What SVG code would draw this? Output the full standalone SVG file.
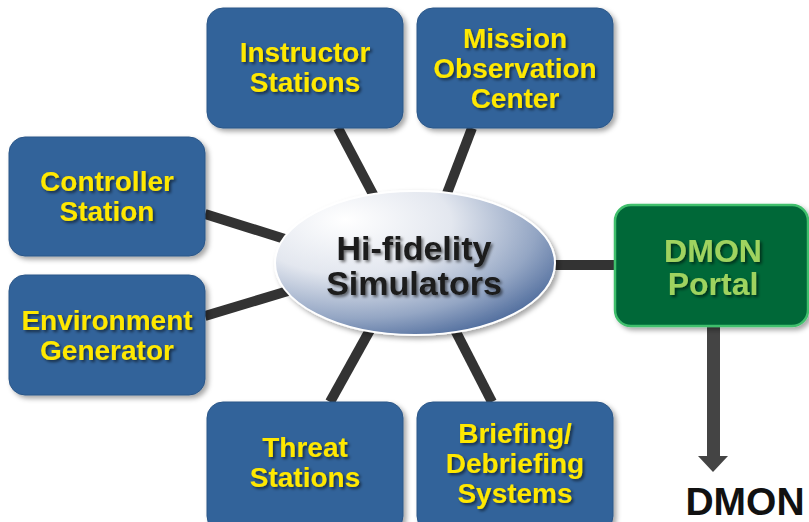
<svg xmlns="http://www.w3.org/2000/svg" width="809" height="522" viewBox="0 0 809 522">
<defs>
<style>
.box{fill:#33649a;stroke:#2a5688;stroke-width:1}
.lbl{font-family:"Liberation Sans",Arial,sans-serif;font-weight:bold;font-size:28px;fill:#ffe800;text-anchor:middle}
.conn{stroke:#333333;stroke-width:10;stroke-linecap:butt}
</style>
<filter id="sh" x="-10%" y="-10%" width="130%" height="130%">
<feDropShadow dx="3" dy="3" stdDeviation="2.5" flood-color="#000" flood-opacity="0.35"/>
</filter>
<filter id="tsh" x="-10%" y="-10%" width="130%" height="140%">
<feDropShadow dx="2" dy="2" stdDeviation="1.5" flood-color="#000" flood-opacity="0.55"/>
</filter>
<radialGradient id="eg" cx="0.3" cy="0.25" r="0.9" fx="0.25" fy="0.2">
<stop offset="0" stop-color="#ffffff"/>
<stop offset="0.4" stop-color="#e3e7ef"/>
<stop offset="0.72" stop-color="#94a6c4"/>
<stop offset="1" stop-color="#36578e"/>
</radialGradient>
</defs>
<rect width="809" height="522" fill="#ffffff"/>
<g id="connectors">
<line class="conn" x1="338" y1="128" x2="375" y2="198"/>
<line class="conn" x1="472" y1="128" x2="446" y2="196"/>
<line class="conn" x1="205" y1="214" x2="288" y2="240"/>
<line class="conn" x1="205" y1="316" x2="288" y2="291"/>
<line class="conn" x1="330" y1="402" x2="370" y2="330"/>
<line class="conn" x1="492" y1="402" x2="455" y2="330"/>
<line class="conn" x1="553" y1="265" x2="616" y2="265"/>
<rect x="707" y="326" width="13" height="131" fill="#444444"/>
<polygon points="698,456 728,456 713,472" fill="#444444"/>
</g>
<g id="instructor">
<rect class="box" x="207" y="8" width="196" height="120" rx="16" filter="url(#sh)"/>
<text class="lbl" filter="url(#tsh)"><tspan x="305" y="62">Instructor</tspan><tspan x="305" y="92">Stations</tspan></text>
</g>
<g id="mission">
<rect class="box" x="417" y="8" width="196" height="120" rx="16" filter="url(#sh)"/>
<text class="lbl" filter="url(#tsh)"><tspan x="515" y="48">Mission</tspan><tspan x="515" y="78">Observation</tspan><tspan x="515" y="108">Center</tspan></text>
</g>
<g id="controller">
<rect class="box" x="9" y="137" width="196" height="119" rx="16" filter="url(#sh)"/>
<text class="lbl" filter="url(#tsh)"><tspan x="107" y="191">Controller</tspan><tspan x="107" y="221">Station</tspan></text>
</g>
<g id="environment">
<rect class="box" x="9" y="275" width="196" height="120" rx="16" filter="url(#sh)"/>
<text class="lbl" filter="url(#tsh)"><tspan x="107" y="330">Environment</tspan><tspan x="107" y="360">Generator</tspan></text>
</g>
<g id="threat">
<rect class="box" x="207" y="402" width="196" height="130" rx="16" filter="url(#sh)"/>
<text class="lbl" filter="url(#tsh)"><tspan x="305" y="457">Threat</tspan><tspan x="305" y="487">Stations</tspan></text>
</g>
<g id="briefing">
<rect class="box" x="417" y="402" width="196" height="130" rx="16" filter="url(#sh)"/>
<text class="lbl" filter="url(#tsh)"><tspan x="515" y="443">Briefing/</tspan><tspan x="515" y="473">Debriefing</tspan><tspan x="515" y="503">Systems</tspan></text>
</g>
<g id="simulators">
<ellipse cx="415" cy="263" rx="140" ry="72" fill="url(#eg)" stroke="#ffffff" stroke-width="2" filter="url(#sh)"/>
<text font-family="'Liberation Sans',Arial,sans-serif" font-weight="bold" font-size="34" fill="#1a1a1a" text-anchor="middle" filter="url(#tsh)"><tspan x="414" y="260">Hi-fidelity</tspan><tspan x="414" y="295">Simulators</tspan></text>
</g>
<g id="portal">
<rect x="615" y="205" width="193" height="121" rx="16" fill="#006838" stroke="#3fbf6c" stroke-width="2.5" filter="url(#sh)"/>
<text font-family="'Liberation Sans',Arial,sans-serif" font-weight="bold" font-size="32" fill="#9fd35f" text-anchor="middle" filter="url(#tsh)"><tspan x="713" y="262">DMON</tspan><tspan x="713" y="295">Portal</tspan></text>
</g>
<g id="dmon">
<text x="745" y="515" font-family="'Liberation Sans',Arial,sans-serif" font-weight="bold" font-size="39" fill="#111111" text-anchor="middle">DMON</text>
</g>
</svg>
